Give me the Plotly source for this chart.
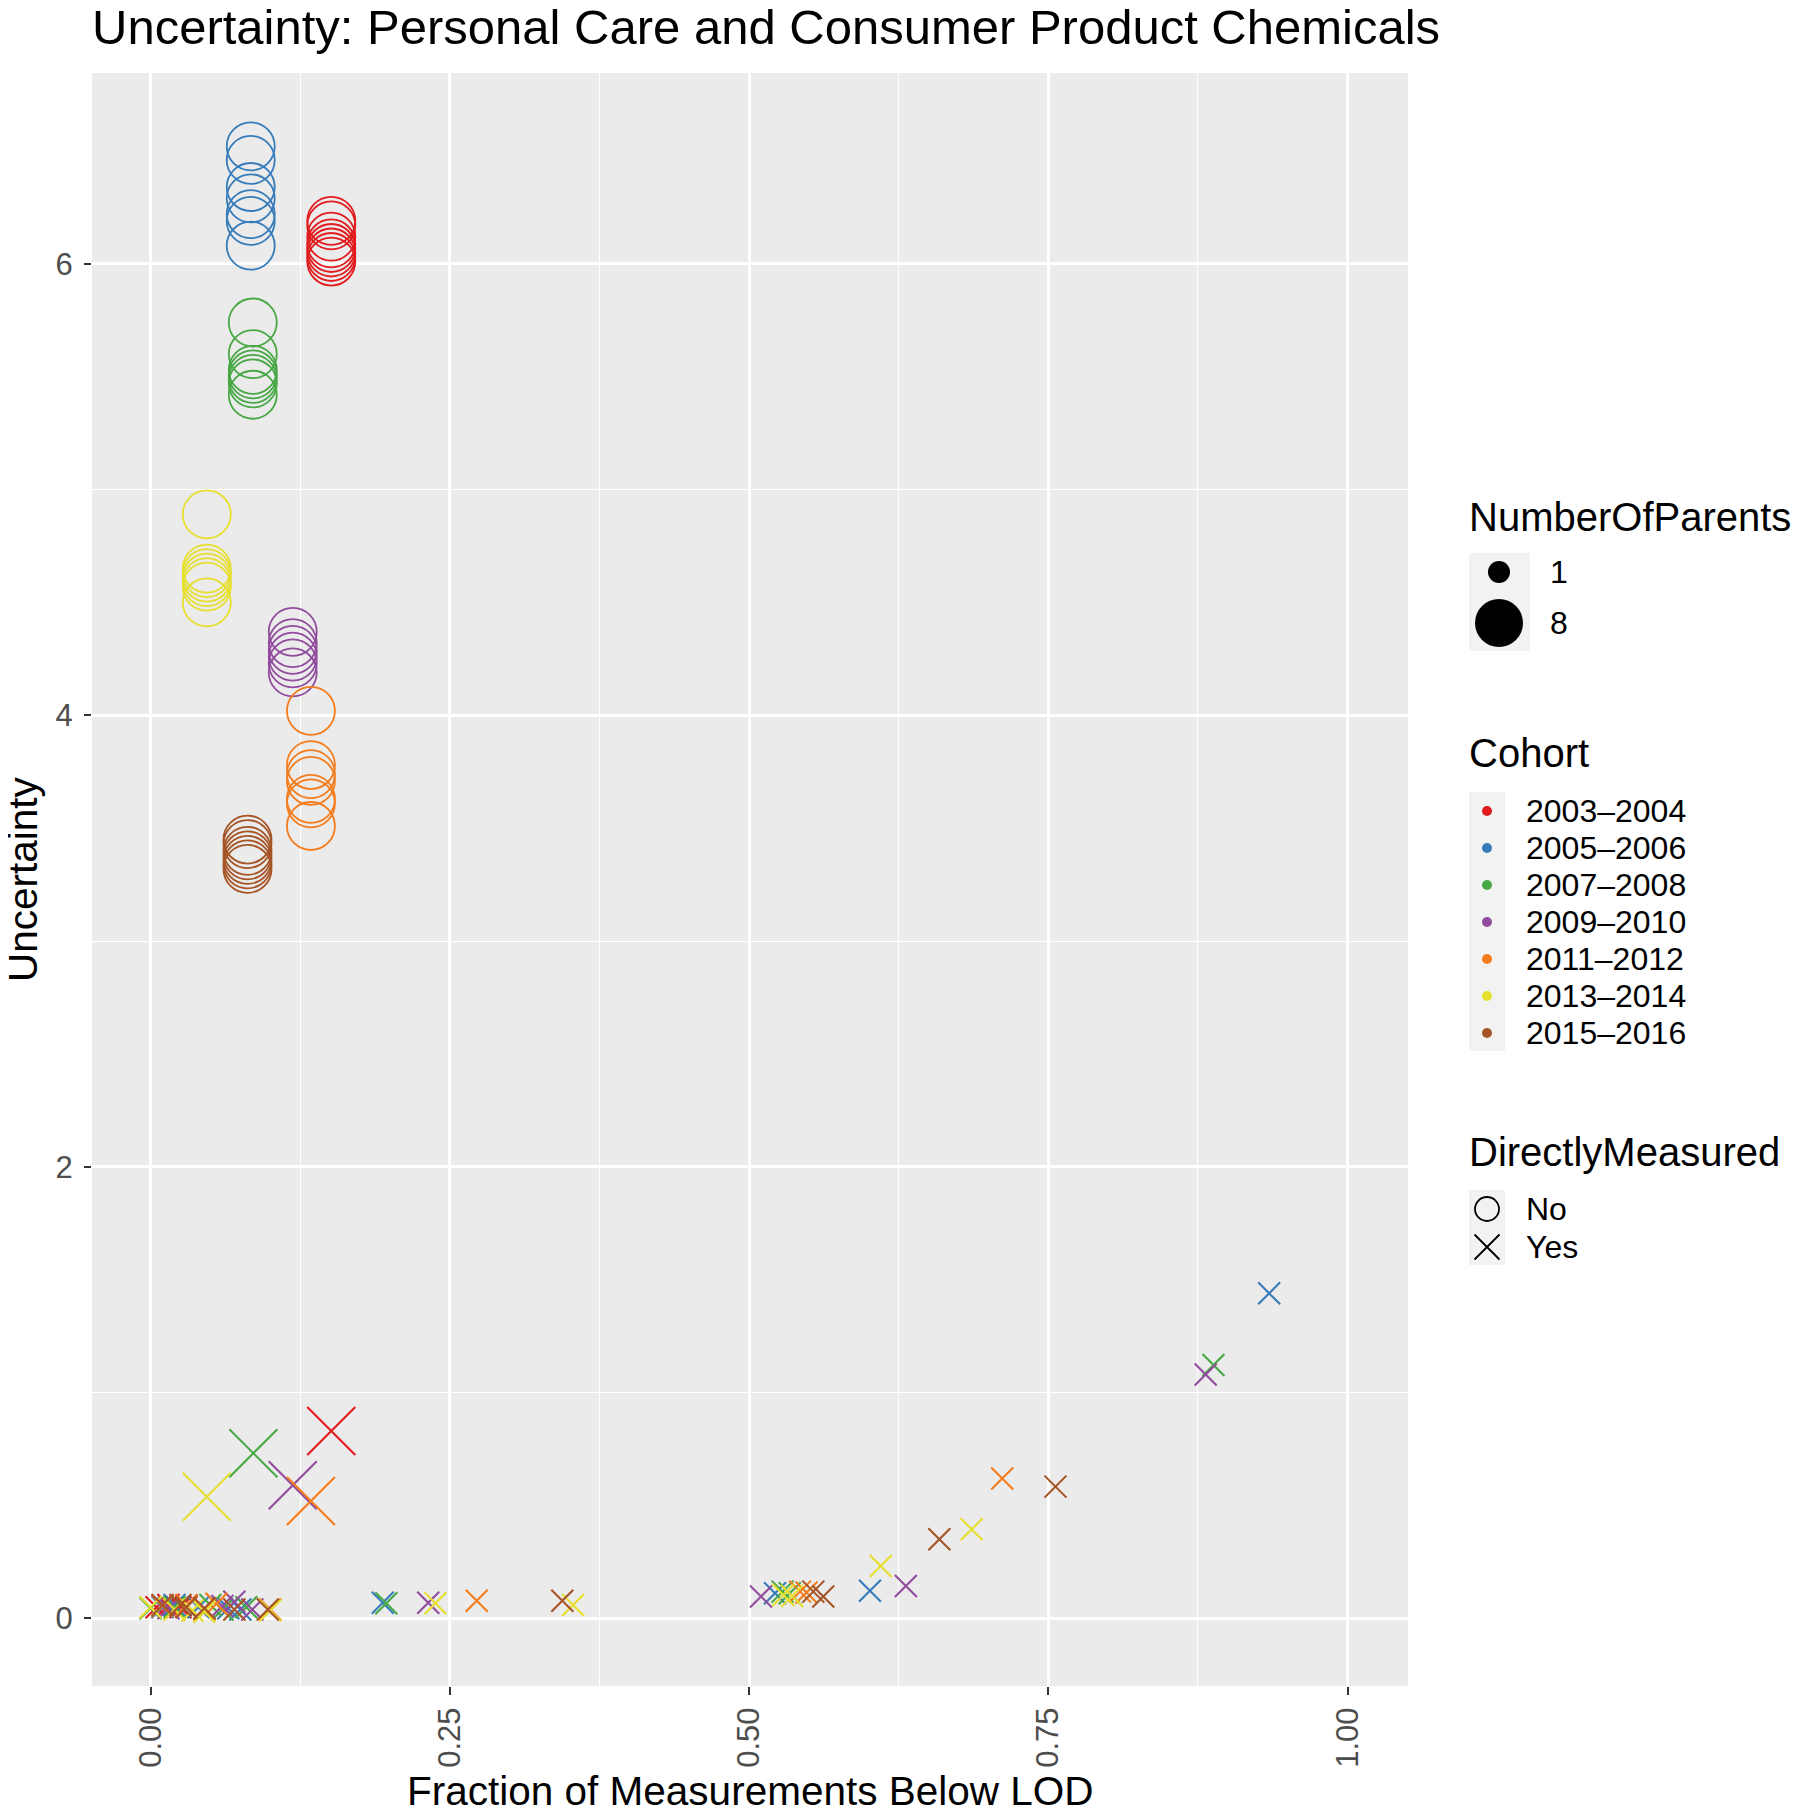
import math
import plotly.graph_objects as go

# ---------------- data ----------------
cohorts = ["2003–2004", "2005–2006", "2007–2008", "2009–2010", "2011–2012", "2013–2014", "2015–2016"]
cohort_colors = ["#E21B1E", "#377CBA", "#47A845", "#914C9E", "#F47C1C", "#E6DF2F", "#A55426"]

# 2003-2004
frac_2003 = [0.151, 0.151, 0.151, 0.151, 0.151, 0.151, 0.151, 0.151, 0.151, 0.005, 0.015, 0.025, 0.030]
unc_2003 = [6.19, 6.17, 6.12, 6.09, 6.07, 6.05, 6.03, 6.01, 0.83, 0.05, 0.06, 0.05, 0.055]
par_2003 = [8, 8, 8, 8, 8, 8, 8, 8, 8, 1, 1, 1, 1]
dm_2003 = ["No"] * 8 + ["Yes"] * 5

# 2005-2006
frac_2005 = [0.0837] * 7 + [0.010, 0.020, 0.040, 0.065, 0.075, 0.194, 0.5217, 0.601, 0.9345]
unc_2005 = [6.52, 6.46, 6.34, 6.29, 6.22, 6.19, 6.08, 0.05, 0.06, 0.05, 0.045, 0.04, 0.07, 0.112, 0.123, 1.44]
par_2005 = [8] * 7 + [1] * 9
dm_2005 = ["No"] * 7 + ["Yes"] * 9

# 2007-2008
frac_2007 = [0.0854] * 7 + [0.0859, 0.000, 0.020, 0.050, 0.060, 0.080, 0.197, 0.528, 0.534, 0.888]
unc_2007 = [5.74, 5.60, 5.53, 5.51, 5.49, 5.47, 5.42, 0.732, 0.045, 0.05, 0.06, 0.04, 0.05, 0.067, 0.119, 0.112, 1.123]
par_2007 = [8] * 8 + [1] * 9
dm_2007 = ["No"] * 7 + ["Yes"] * 10

# 2009-2010
frac_2009 = [0.1188] * 6 + [0.1188, 0.015, 0.060, 0.070, 0.085, 0.232, 0.510, 0.631, 0.8815]
unc_2009 = [4.37, 4.32, 4.29, 4.26, 4.23, 4.19, 0.59, 0.045, 0.055, 0.074, 0.04, 0.07, 0.097, 0.144, 1.081]
par_2009 = [8] * 7 + [1] * 8
dm_2009 = ["No"] * 6 + ["Yes"] * 9

# 2011-2012
frac_2011 = [0.134] * 7 + [0.134, 0.010, 0.030, 0.045, 0.055, 0.100, 0.2725, 0.5426, 0.548, 0.7115]
unc_2011 = [4.02, 3.78, 3.74, 3.71, 3.63, 3.61, 3.51, 0.52, 0.055, 0.06, 0.04, 0.065, 0.04, 0.079, 0.119, 0.115, 0.62]
par_2011 = [8] * 8 + [1] * 9
dm_2011 = ["No"] * 7 + ["Yes"] * 10

# 2013-2014
frac_2013 = [0.047] * 7 + [0.047, 0.000, 0.020, 0.035, 0.045, 0.100, 0.238, 0.353, 0.5287, 0.536, 0.610, 0.686]
unc_2013 = [4.89, 4.65, 4.63, 4.61, 4.59, 4.57, 4.50, 0.539, 0.05, 0.04, 0.035, 0.03, 0.035, 0.067, 0.06, 0.104, 0.10, 0.232, 0.395]
par_2013 = [8] * 8 + [1] * 11
dm_2013 = ["No"] * 7 + ["Yes"] * 12

# 2015-2016
frac_2015 = [0.081] * 7 + [0.010, 0.025, 0.030, 0.045, 0.070, 0.098, 0.344, 0.5537, 0.562, 0.659, 0.756]
unc_2015 = [3.45, 3.43, 3.40, 3.38, 3.36, 3.34, 3.32, 0.06, 0.06, 0.05, 0.045, 0.04, 0.04, 0.079, 0.119, 0.097, 0.351, 0.584]
par_2015 = [8] * 7 + [1] * 11
dm_2015 = ["No"] * 7 + ["Yes"] * 11

cohort_data = [
    (frac_2003, unc_2003, par_2003, dm_2003),
    (frac_2005, unc_2005, par_2005, dm_2005),
    (frac_2007, unc_2007, par_2007, dm_2007),
    (frac_2009, unc_2009, par_2009, dm_2009),
    (frac_2011, unc_2011, par_2011, dm_2011),
    (frac_2013, unc_2013, par_2013, dm_2013),
    (frac_2015, unc_2015, par_2015, dm_2015),
]

x_ticks = [0, 0.25, 0.5, 0.75, 1.0]
x_ticklabels = ["0.00", "0.25", "0.50", "0.75", "1.00"]
y_ticks = [0, 2, 4, 6]
y_ticklabels = ["0", "2", "4", "6"]
size_levels = [1, 8]
shape_levels = ["No", "Yes"]

# ---------------- styling ----------------
OFF = 8  # the page body adds an 8px margin around the figure
W, H = 1800 - OFF, 1813 - OFF
FONT = "Liberation Sans, Arial, Helvetica, sans-serif"


def px(v):
    return v - OFF


def py(v):
    return v - OFF


PANEL = dict(l=px(92), r=px(1408), t=py(73), b=py(1686))


def size_px(n):
    # area-like scaling between parents 1 and 8
    return 22 + 26 * math.sqrt((n - 1) / 7.0)


fig = go.Figure()

for name, col, (fx, uy, pn, dm) in zip(cohorts, cohort_colors, cohort_data):
    for kind in shape_levels:
        idx = [i for i, v in enumerate(dm) if v == kind]
        if not idx:
            continue
        xs = [fx[i] for i in idx]
        ys = [uy[i] for i in idx]
        sizes = [size_px(pn[i]) for i in idx]
        if kind == "No":
            marker = dict(symbol="circle-open", size=sizes, color=col, opacity=1,
                          line=dict(color=col, width=1.8))
        else:
            marker = dict(symbol="x-thin-open", size=sizes, color=col, opacity=1,
                          line=dict(color=col, width=2.1))
        fig.add_trace(go.Scatter(x=xs, y=ys, mode="markers", marker=marker,
                                 name=name, showlegend=False, xaxis="x", yaxis="y",
                                 hoverinfo="x+y"))

# ---------------- legend drawn in an overlay pixel-space subplot ----------------
LEG_X = px(1469)
key_bg = "#F2F2F2"

# NumberOfParents
size_key_y = [py(572), py(623)]
fig.add_trace(go.Scatter(x=[px(1499)] * 2, y=size_key_y, mode="markers",
                         marker=dict(symbol="circle", size=[size_px(n) for n in size_levels],
                                     color="black", opacity=1, line=dict(width=0)),
                         showlegend=False, xaxis="x2", yaxis="y2", hoverinfo="skip"))
# Cohort
cohort_key_y = [py(v) for v in [811, 848, 885, 922, 959, 996, 1033]]
fig.add_trace(go.Scatter(x=[px(1487)] * len(cohorts), y=cohort_key_y, mode="markers",
                         marker=dict(symbol="circle", size=10, color=cohort_colors, opacity=1,
                                     line=dict(width=0)),
                         showlegend=False, xaxis="x2", yaxis="y2", hoverinfo="skip"))
# DirectlyMeasured
dm_key_y = [py(1209), py(1247)]
fig.add_trace(go.Scatter(x=[px(1487)], y=[dm_key_y[0]], mode="markers",
                         marker=dict(symbol="circle-open", size=24, color="black",
                                     line=dict(color="black", width=1.8)),
                         showlegend=False, xaxis="x2", yaxis="y2", hoverinfo="skip"))
fig.add_trace(go.Scatter(x=[px(1487)], y=[dm_key_y[1]], mode="markers",
                         marker=dict(symbol="x-thin-open", size=25, color="black",
                                     line=dict(color="black", width=1.9)),
                         showlegend=False, xaxis="x2", yaxis="y2", hoverinfo="skip"))

shapes = [
    # panel background
    dict(type="rect", xref="x domain", yref="y domain", x0=0, x1=1, y0=0, y1=1,
         fillcolor="#EBEBEB", line=dict(width=0), layer="below"),
    # legend key backgrounds
    dict(type="rect", xref="x2", yref="y2", x0=LEG_X, x1=px(1530), y0=py(553), y1=py(651),
         fillcolor=key_bg, line=dict(width=0), layer="below"),
    dict(type="rect", xref="x2", yref="y2", x0=LEG_X, x1=px(1505), y0=py(792), y1=py(1051),
         fillcolor=key_bg, line=dict(width=0), layer="below"),
    dict(type="rect", xref="x2", yref="y2", x0=LEG_X, x1=px(1505), y0=py(1190), y1=py(1265),
         fillcolor=key_bg, line=dict(width=0), layer="below"),
]

annotations = []


def ann(text, x, y, size, color="black", xanchor="left", xref="x2", yref="y2", angle=0):
    annotations.append(dict(text=text, x=x, y=y, xref=xref, yref=yref, showarrow=False,
                            xanchor=xanchor, yanchor="middle", textangle=angle,
                            font=dict(family=FONT, size=size, color=color)))


ann("NumberOfParents", LEG_X - 2, py(517), 40)
for lv, yy in zip(size_levels, size_key_y):
    ann(str(lv), px(1548), yy, 32)
ann("Cohort", LEG_X - 2, py(753), 40)
for name, yy in zip(cohorts, cohort_key_y):
    ann(name, px(1524), yy, 32)
ann("DirectlyMeasured", LEG_X - 2, py(1152), 40)
for lv, yy in zip(shape_levels, dm_key_y):
    ann(lv, px(1524), yy, 32)

# axis titles
ann("Fraction of Measurements Below LOD", px(750) / W, 1 - py(1791) / H, 40.5,
    xanchor="center", xref="paper", yref="paper")
ann("Uncertainty", px(23) / W, 1 - py(879) / H, 40.5, xanchor="center", xref="paper", yref="paper", angle=-90)

fig.update_layout(
    width=W, height=H,
    margin=dict(l=0, r=0, t=0, b=0),
    paper_bgcolor="white",
    plot_bgcolor="rgba(0,0,0,0)",
    font=dict(family=FONT, color="black"),
    title=dict(text="Uncertainty: Personal Care and Consumer Product Chemicals",
               x=px(92) / W, xref="container", xanchor="left",
               y=1 - py(27) / H, yref="container", yanchor="middle",
               font=dict(family=FONT, size=49, color="black")),
    xaxis=dict(domain=[PANEL["l"] / W, PANEL["r"] / W], anchor="y",
               range=[-0.0489, 1.0505], tickmode="array", tickvals=x_ticks, ticktext=x_ticklabels,
               tickangle=-90, ticks="outside", ticklen=8, tickwidth=2, tickcolor="#333333",
               tickfont=dict(family=FONT, size=31, color="#4D4D4D"),
               showgrid=True, gridcolor="white", gridwidth=2.6, zeroline=False, showline=False,
               minor=dict(tickmode="linear", tick0=0, dtick=0.125, showgrid=True,
                          gridcolor="white", gridwidth=1.3, ticks=""),
               fixedrange=True),
    yaxis=dict(domain=[1 - PANEL["b"] / H, 1 - PANEL["t"] / H], anchor="x",
               range=[-0.299, 6.845], tickmode="array", tickvals=y_ticks, ticktext=y_ticklabels,
               ticks="outside", ticklen=7, tickwidth=2, tickcolor="#333333", ticklabelstandoff=5,
               tickfont=dict(family=FONT, size=31, color="#4D4D4D"),
               showgrid=True, gridcolor="white", gridwidth=2.6, zeroline=False, showline=False,
               minor=dict(tickmode="linear", tick0=0, dtick=1, showgrid=True,
                          gridcolor="white", gridwidth=1.3, ticks=""),
               fixedrange=True),
    xaxis2=dict(domain=[px(1440) / W, 1.0], anchor="y2", range=[px(1440), W], visible=False,
                showgrid=False, zeroline=False, fixedrange=True),
    yaxis2=dict(domain=[0, 1], anchor="x2", range=[H, 0], visible=False,
                showgrid=False, zeroline=False, fixedrange=True),
    shapes=shapes,
    annotations=annotations,
    showlegend=False,
)

fig.write_html("out.html")
